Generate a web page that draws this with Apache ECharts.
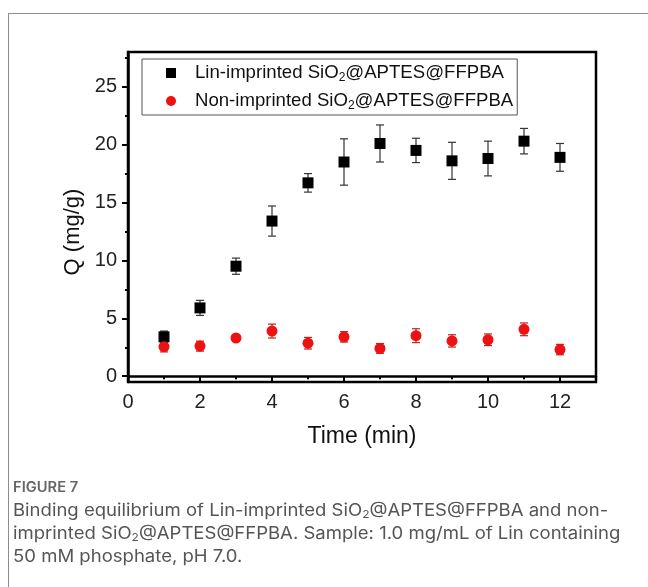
<!DOCTYPE html>
<html>
<head>
<meta charset="utf-8">
<script src="https://cdn.jsdelivr.net/npm/echarts@6/dist/echarts.min.js"></script>
<style>
html,body{margin:0;padding:0;background:#fff;width:648px;height:587px;overflow:hidden;}
#frame{position:absolute;left:8px;top:13px;width:700px;height:700px;border-left:1px solid #8c8c8c;border-top:1px solid #8c8c8c;}
#chart{position:absolute;left:0;top:0;width:648px;height:587px;}
#cap{position:absolute;left:13px;top:477px;width:640px;font-family:Inter,"Open Sans",sans-serif;color:#555;white-space:nowrap;}
#cap .fig{font-size:14px;font-weight:600;color:#666;line-height:20px;margin-bottom:2px;transform:scaleX(1.05);transform-origin:0 0;}
#cap .txt{font-size:17px;line-height:23px;transform:scaleX(1.09);transform-origin:0 0;}
#cap sub{font-size:11px;line-height:0;vertical-align:-0.2em;}
</style>
</head>
<body>
<div id="frame"></div>
<div id="chart"></div>
<div id="cap">
<div class="fig">FIGURE 7</div>
<div class="txt">Binding equilibrium of Lin-imprinted SiO<sub>2</sub>@APTES@FFPBA and non-<br>imprinted SiO<sub>2</sub>@APTES@FFPBA. Sample: 1.0&nbsp;mg/mL of Lin containing<br>50&nbsp;mM phosphate, pH 7.0.</div>
</div>
<script>
var times = [1, 2, 3, 4, 5, 6, 7, 8, 9, 10, 11, 12];
var linQ = [3.4, 5.9, 9.5, 13.4, 16.7, 18.5, 20.1, 19.5, 18.6, 18.8, 20.3, 18.9];
var linErr = [0.5, 0.65, 0.7, 1.3, 0.8, 2.0, 1.6, 1.05, 1.6, 1.5, 1.1, 1.2];
var nonQ = [2.55, 2.6, 3.3, 3.9, 2.85, 3.4, 2.4, 3.5, 3.05, 3.15, 4.05, 2.3];
var nonErr = [0.45, 0.43, 0.23, 0.6, 0.5, 0.45, 0.42, 0.6, 0.53, 0.5, 0.55, 0.45];
var xTicks = [0, 2, 4, 6, 8, 10, 12];
var xMinorTicks = [1, 3, 5, 7, 9, 11];
var yTicks = [0, 5, 10, 15, 20, 25];
var yMinorTicks = [2.5, 7.5, 12.5, 17.5, 22.5, 27.5];
var linName = 'Lin-imprinted SiO2@APTES@FFPBA';
var nonName = 'Non-imprinted SiO2@APTES@FFPBA';

function pts(ys) { return times.map(function (t, i) { return [t, ys[i]]; }); }
function errs(ys, es) { return times.map(function (t, i) { return [t, ys[i], es[i]]; }); }

function errRender(color) {
  return function (params, api) {
    var x = api.value(0), y = api.value(1), e = api.value(2);
    var top = api.coord([x, y + e]);
    var bot = api.coord([x, y - e]);
    var w = 4;
    var st = { stroke: color, lineWidth: 1.2 };
    return {
      type: 'group',
      children: [
        { type: 'line', shape: { x1: top[0], y1: top[1], x2: bot[0], y2: bot[1] }, style: st },
        { type: 'line', shape: { x1: top[0] - w, y1: top[1], x2: top[0] + w, y2: top[1] }, style: st },
        { type: 'line', shape: { x1: bot[0] - w, y1: bot[1], x2: bot[0] + w, y2: bot[1] }, style: st }
      ]
    };
  };
}

var font = 'Liberation Sans, Arial, sans-serif';
var tickStyle = { color: '#000', width: 2 };
var chart = echarts.init(document.getElementById('chart'), null, { renderer: 'canvas' });
chart.setOption({
  animation: false,
  backgroundColor: 'transparent',
  grid: { left: 128, top: 52, right: 52, bottom: 205, show: true, borderColor: '#000', borderWidth: 2.5 },
  legend: {
    orient: 'vertical',
    left: 142, top: 59,
    padding: [3, 4, 3, 24],
    itemGap: 6,
    itemWidth: 10, itemHeight: 10,
    borderColor: '#555', borderWidth: 1,
    data: [{ name: linName, icon: 'rect' }, { name: nonName, icon: 'circle' }],
    formatter: function (n) {
      var parts = n.split('SiO2');
      return '{sp|}{a|' + parts[0] + 'SiO}{s|2}{a|' + parts[1] + '}';
    },
    textStyle: {
      fontFamily: font, color: '#111',
      rich: {
        sp: { width: 14 },
        a: { fontSize: 18.6, fontFamily: font, color: '#111', lineHeight: 22 },
        s: { fontSize: 12, fontFamily: font, color: '#111', lineHeight: 22, padding: [10, 0, 0, 0] }
      }
    }
  },
  xAxis: [{
    type: 'value', min: 0, max: 13,
    name: 'Time (min)', nameLocation: 'middle', nameGap: 43,
    nameTextStyle: { fontFamily: font, fontSize: 23, color: '#111' },
    axisLine: { show: true, lineStyle: { color: '#000', width: 2.5 } },
    axisTick: { show: true, inside: false, length: 6, customValues: xTicks, lineStyle: tickStyle },
    axisLabel: { fontFamily: font, fontSize: 20, color: '#222', margin: 10, customValues: xTicks },
    splitLine: { show: false }
  }, {
    type: 'value', min: 0, max: 13, position: 'bottom',
    axisLine: { show: false },
    axisTick: { show: true, inside: false, length: 3, customValues: xMinorTicks, lineStyle: tickStyle },
    axisLabel: { show: false },
    splitLine: { show: false }
  }],
  yAxis: [{
    type: 'value', min: -0.5, max: 28,
    name: 'Q (mg/g)', nameLocation: 'middle', nameGap: 44, nameRotate: 90,
    nameTextStyle: { fontFamily: font, fontSize: 22, color: '#111', padding: [0, 30, 0, 0] },
    axisLine: { show: true, lineStyle: { color: '#000', width: 2.5 } },
    axisTick: { show: true, inside: false, length: 6, customValues: yTicks, lineStyle: tickStyle },
    axisLabel: { fontFamily: font, fontSize: 20, color: '#222', margin: 11, customValues: yTicks },
    splitLine: { show: false }
  }, {
    type: 'value', min: -0.5, max: 28, position: 'left',
    axisLine: { show: false },
    axisTick: { show: true, inside: false, length: 3, customValues: yMinorTicks, lineStyle: tickStyle },
    axisLabel: { show: false },
    splitLine: { show: false }
  }],
  series: [
    {
      type: 'custom', name: 'linErr', renderItem: errRender('#333'),
      data: errs(linQ, linErr), encode: { x: 0, y: 1 }, z: 1, silent: true
    },
    {
      type: 'custom', name: 'nonErr', renderItem: errRender('#c81e1e'),
      data: errs(nonQ, nonErr), encode: { x: 0, y: 1 }, z: 1, silent: true
    },
    {
      type: 'scatter', name: linName, symbol: 'rect', symbolSize: 11,
      itemStyle: { color: '#000', opacity: 1 }, data: pts(linQ), z: 3
    },
    {
      type: 'scatter', name: nonName, symbol: 'circle', symbolSize: 11,
      itemStyle: { color: '#ee1111', opacity: 1 }, data: pts(nonQ), z: 3
    }
  ]
});
</script>
</body>
</html>
